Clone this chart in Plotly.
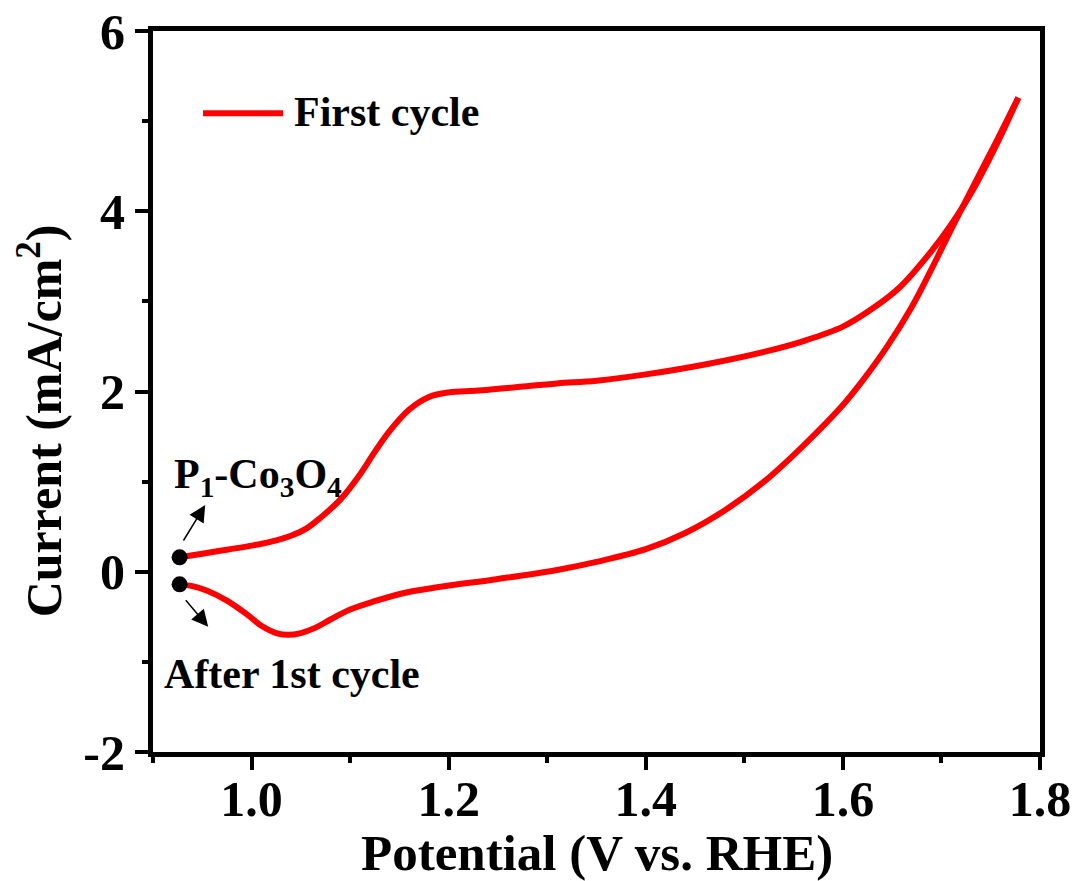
import plotly.graph_objects as go

# ---- data ----
fwd_potential = [0.927, 0.95, 0.975, 1.00, 1.02, 1.04, 1.055, 1.07, 1.09, 1.11, 1.125, 1.14,
                 1.16, 1.18, 1.20, 1.23, 1.27, 1.31, 1.35, 1.40, 1.46, 1.52, 1.56, 1.60,
                 1.63, 1.658, 1.69, 1.709, 1.73, 1.755, 1.778]
fwd_current = [0.16, 0.20, 0.245, 0.29, 0.335, 0.40, 0.475, 0.60, 0.80, 1.08, 1.33, 1.56,
               1.80, 1.94, 1.99, 2.01, 2.05, 2.09, 2.12, 2.19, 2.30, 2.44, 2.56, 2.72,
               2.92, 3.16, 3.56, 3.84, 4.20, 4.72, 5.26]
rev_potential = [1.778, 1.755, 1.73, 1.709, 1.69, 1.67, 1.645, 1.62, 1.60, 1.56, 1.52, 1.48,
                 1.44, 1.40, 1.35, 1.31, 1.25, 1.19, 1.157, 1.124, 1.10, 1.08, 1.065, 1.05,
                 1.037, 1.025, 1.01, 0.995, 0.975, 0.955, 0.94, 0.927]
rev_current = [5.26, 4.76, 4.23, 3.78, 3.36, 2.94, 2.50, 2.12, 1.85, 1.40, 1.00, 0.68,
               0.43, 0.25, 0.11, 0.02, -0.08, -0.17, -0.23, -0.33, -0.42, -0.53, -0.62, -0.68,
               -0.70, -0.68, -0.60, -0.47, -0.32, -0.21, -0.16, -0.14]
start_potential = [0.927, 0.927]
start_current = [0.16, -0.14]

x_tickvals = [1.0, 1.2, 1.4, 1.6, 1.8]
x_ticktext = ["1.0", "1.2", "1.4", "1.6", "1.8"]
y_tickvals = [-2, 0, 2, 4, 6]
y_ticktext = ["-2", "0", "2", "4", "6"]

series_name = "First cycle"
label_initial = "P<sub>1</sub>-Co<sub>3</sub>O<sub>4</sub>"
label_after = "After 1st cycle"
x_title = "Potential (V vs. RHE)"
y_title = "Current (mA/cm<sup>2</sup>)"

FONT = "Liberation Serif"
RED = "#ff0000"

fig = go.Figure()
fig.add_trace(go.Scatter(x=fwd_potential, y=fwd_current, mode="lines", name=series_name,
                         line=dict(color=RED, width=6, shape="spline", smoothing=1.0),
                         showlegend=False))
fig.add_trace(go.Scatter(x=rev_potential, y=rev_current, mode="lines", name=series_name,
                         line=dict(color=RED, width=6, shape="spline", smoothing=1.0),
                         showlegend=False))
fig.add_trace(go.Scatter(x=start_potential, y=start_current, mode="markers",
                         marker=dict(color="black", size=16), showlegend=False))

axis_common = dict(
    showgrid=False, zeroline=False, showline=True, linecolor="black", linewidth=5,
    mirror=True, ticks="outside", ticklen=13, tickwidth=4, tickcolor="black",
    tickfont=dict(family=FONT, size=50, color="black", weight="bold"),
)
fig.update_xaxes(range=[0.9, 1.8], tickmode="array", tickvals=x_tickvals, ticktext=x_ticktext,
                 ticklabelstandoff=-14,
                 minor=dict(dtick=0.1, tick0=0.9, ticks="outside", ticklen=6, tickwidth=4,
                            tickcolor="black"),
                 **axis_common)
fig.update_yaxes(range=[-2, 6], tickmode="array", tickvals=y_tickvals, ticktext=y_ticktext,
                 minor=dict(dtick=1, tick0=-2, ticks="outside", ticklen=6, tickwidth=4,
                            tickcolor="black"),
                 **axis_common)

annot_font = dict(family=FONT, size=42, color="black", weight="bold")
annotations = [
    dict(x=0.919, y=1.05, xref="x", yref="y", text=label_initial, showarrow=False,
         xanchor="left", yanchor="middle", font=annot_font),
    dict(x=0.909, y=-1.13, xref="x", yref="y", text=label_after, showarrow=False,
         xanchor="left", yanchor="middle", font=annot_font),
    dict(x=0.953, y=0.74, ax=0.930, ay=0.33, xref="x", yref="y", axref="x", ayref="y",
         text="", showarrow=True, arrowhead=2, arrowsize=2.2, arrowwidth=1.5,
         arrowcolor="black", standoff=0),
    dict(x=0.956, y=-0.61, ax=0.932, ay=-0.30, xref="x", yref="y", axref="x", ayref="y",
         text="", showarrow=True, arrowhead=2, arrowsize=2.2, arrowwidth=1.5,
         arrowcolor="black", standoff=0),
    # legend text
    dict(x=0.1567, y=0.887, xref="paper", yref="paper", text=series_name, showarrow=False,
         xanchor="left", yanchor="middle", font=annot_font),
    # axis titles
    dict(x=0.5, y=-0.140, xref="paper", yref="paper", text=x_title, showarrow=False,
         xanchor="center", yanchor="middle",
         font=dict(family=FONT, size=51, color="black", weight="bold")),
    dict(x=-0.1274, y=0.46, xref="paper", yref="paper", text=y_title, showarrow=False,
         textangle=-90, xanchor="center", yanchor="middle",
         font=dict(family=FONT, size=50, color="black", weight="bold")),
]
shapes = [
    # legend key
    dict(type="line", xref="paper", yref="paper", x0=0.0564, x1=0.1466, y0=0.886, y1=0.886,
         line=dict(color=RED, width=6)),
]

fig.update_layout(
    width=1083, height=881,
    margin=dict(l=153, r=43, t=31, b=129, autoexpand=False),
    plot_bgcolor="white", paper_bgcolor="white",
    font=dict(family=FONT, color="black"),
    annotations=annotations, shapes=shapes,
    showlegend=False,
)

fig.write_html("out.html")
